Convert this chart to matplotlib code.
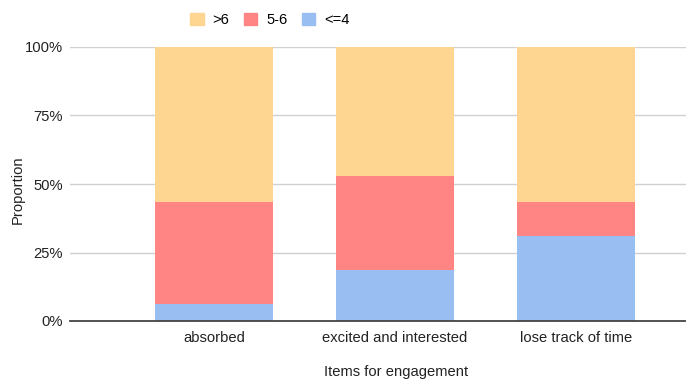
import matplotlib.pyplot as plt
from matplotlib.patches import Patch

plt.rcParams['font.family'] = ['Liberation Sans', 'DejaVu Sans']

# engagement items and rating shares (percent of respondents)
items = ["absorbed", "excited and interested", "lose track of time"]
low = [6.2, 18.6, 31.1]      # <=4
mid = [37.4, 34.3, 12.5]     # 5-6
high = [56.4, 47.1, 56.4]    # >6

c_high = "#ffd592"
c_mid = "#ff8585"
c_low = "#99bff2"

fig = plt.figure(figsize=(6.86, 3.81), dpi=100)
ax = fig.add_axes([70 / 686, 60 / 381, 616 / 686, 274 / 381])

x = range(len(items))
w = 0.652
ax.bar(x, low, w, color=c_low, zorder=2)
ax.bar(x, mid, w, bottom=low, color=c_mid, zorder=2)
bottom2 = [a + b for a, b in zip(low, mid)]
ax.bar(x, high, w, bottom=bottom2, color=c_high, zorder=2)

ax.set_xlim(-0.7956, 2.608)
ax.set_ylim(0, 100)
ax.set_yticks([0, 25, 50, 75, 100])
ax.set_yticklabels(["0%", "25%", "50%", "75%", "100%"])
ax.set_xticks(list(x))
ax.set_xticklabels(items)
ax.tick_params(length=0, labelsize=10.6, colors="#222222")
ax.tick_params(axis="y", pad=5)
ax.tick_params(axis="x", pad=7)

ax.grid(axis="y", color="#d0d0d0", linewidth=1, zorder=0)
for s in ["top", "right", "left"]:
    ax.spines[s].set_visible(False)
ax.spines["bottom"].set_color("#444444")
ax.spines["bottom"].set_linewidth(1.3)
ax.spines["bottom"].set_zorder(3)

# axis titles placed in figure pixels
fig.text(18 / 686, 1 - 190 / 381, "Proportion", rotation=90, ha="center", va="center",
         fontsize=10.6, color="#222222")
fig.text(396 / 686, 1 - 372 / 381, "Items for engagement", ha="center", va="center",
         fontsize=10.6, color="#222222")

handles = [Patch(color=c_high, label=">6"), Patch(color=c_mid, label="5-6"),
           Patch(color=c_low, label="<=4")]
fig.legend(handles=handles, loc="center", bbox_to_anchor=(270 / 686, 1 - 20 / 381),
           ncol=3, frameon=False, fontsize=10.6, handlelength=0.9, handleheight=0.9,
           handletextpad=0.6, columnspacing=1.0)

fig.savefig("out.png", dpi=100)
